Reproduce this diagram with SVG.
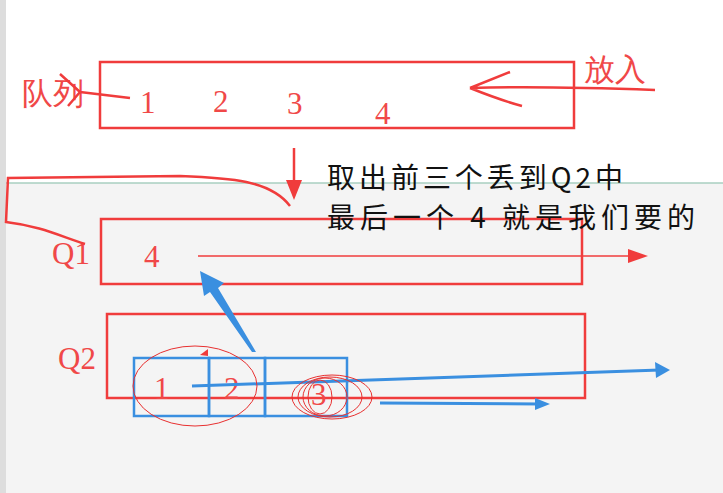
<svg xmlns="http://www.w3.org/2000/svg" width="723" height="493" viewBox="0 0 723 493">
<style>
.r{fill:none;stroke:#f03c3c;stroke-width:2.5}
.rt{fill:#f04848;font-family:"Liberation Serif",serif;font-size:31px}
.b{fill:none;stroke:#3a8fe0;stroke-width:2.5}
.k{fill:#111;font-family:"Noto Sans CJK SC",sans-serif;font-size:28px}
.e{fill:none;stroke:#e83030;stroke-width:1}
</style>
<rect width="723" height="493" fill="#fff"/>
<rect x="0" y="183" width="723" height="310" fill="#f4f4f4"/>
<line x1="0" y1="183" x2="723" y2="183" stroke="#a9cfc0" stroke-width="1.5"/>
<rect x="0" y="0" width="6" height="493" fill="#ddd"/>
<g id="queue">
<rect class="r" x="100" y="62" width="474" height="66"/>
<text class="rt" x="22" y="104">队列</text>
<text class="rt" x="140" y="113">1</text>
<text class="rt" x="213" y="112">2</text>
<text class="rt" x="287" y="114">3</text>
<text class="rt" x="375" y="124">4</text>
<text class="rt" x="584" y="80">放入</text>
</g>
<g id="q1">
<rect class="r" x="101" y="219" width="481" height="65"/>
<text class="rt" x="52" y="264">Q1</text>
<text class="rt" x="144" y="267">4</text>
</g>
<g id="q2">
<rect class="r" x="107" y="314" width="478" height="84"/>
<text class="rt" x="58" y="369">Q2</text>
<rect class="b" x="134" y="358" width="75" height="58"/>
<rect class="b" x="209" y="358" width="56" height="58"/>
<rect class="b" x="265" y="358" width="82" height="58"/>
<text class="rt" x="154" y="399">1</text>
<text class="rt" x="224" y="399">2</text>
<text class="rt" x="311" y="405">3</text>
</g>
<g id="note">
<text class="k" x="327" y="188" textLength="296">取出前三个丢到Q2中</text>
<text class="k" x="327" y="228" textLength="368">最后一个 4 就是我们要的</text>
</g>
<g id="connectors">
<path d="M655 90 C600 88 540 86 470 88 M470 88 L510 72 M470 88 Q500 100 522 106" class="r" stroke-width="3"/>
<path d="M130 98 L80 92 M80 92 L60 74 M80 92 L68 106" class="r" stroke-width="3"/>
<path d="M294 148 L294 188" class="r" stroke-width="3"/>
<polygon points="286,180 302,180 294,200" fill="#f03c3c"/>
<path d="M290 206 C270 180 230 178 180 176 L8 178 L6 222 C40 226 60 236 85 244" class="r"/>
<path d="M198 256 L630 256" stroke="#f03c3c" stroke-width="1.5"/>
<polygon points="628,249 648,256 628,263" fill="#f03c3c"/>
<polygon points="200,271 224,283 218,288 256,352 252,352 210,292 204,296" fill="#3a8fe0"/>
<path d="M192 386 L660 370" stroke="#3a8fe0" stroke-width="3"/>
<polygon points="655,362 670,370 656,378" fill="#3a8fe0"/>
<path d="M380 403 L540 404" stroke="#3a8fe0" stroke-width="3"/>
<polygon points="535,398 550,404 535,410" fill="#3a8fe0"/>
<polygon points="200,355 208,349 208,356" fill="#f03c3c"/>
</g>
<g id="circles">
<ellipse class="e" cx="195" cy="386" rx="62" ry="40"/>
<ellipse class="e" cx="330" cy="397" rx="32" ry="20"/>
<ellipse class="e" cx="332" cy="397" rx="40" ry="22"/>
<ellipse class="e" cx="325" cy="397" rx="22" ry="19"/>
<ellipse class="e" cx="320" cy="397" rx="12" ry="17"/>
</g>
</svg>
